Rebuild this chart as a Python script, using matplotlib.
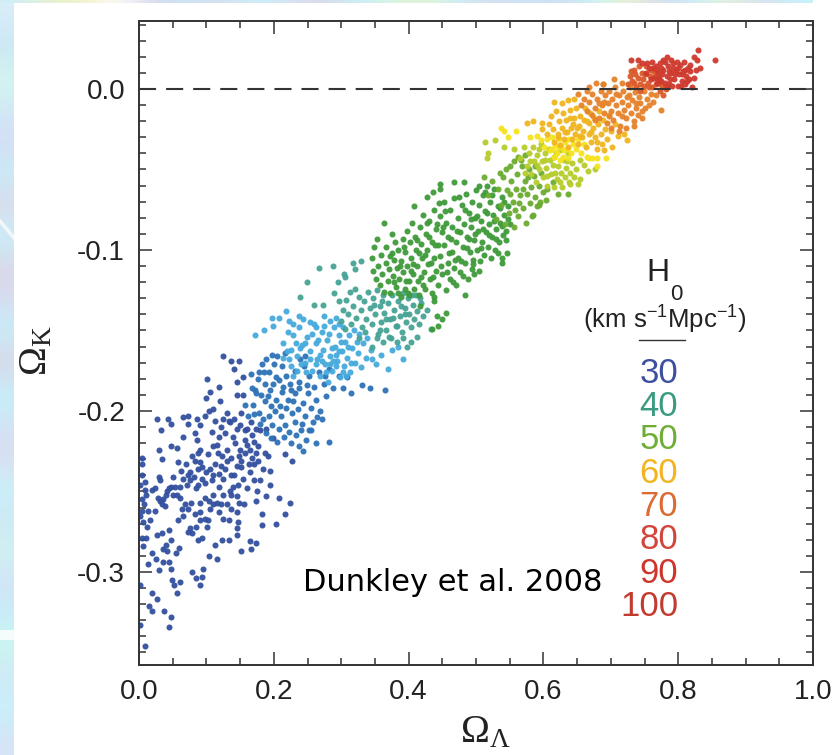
#!/usr/bin/env python3
import matplotlib
matplotlib.use('Agg')
import matplotlib.pyplot as plt
import matplotlib.colors as mcolors
import numpy as np
from matplotlib.ticker import MultipleLocator

# points, (omega_lambda, omega_k), one list per colour band
dark_blue = [(.009,-.346),(.002,-.333),(.044,-.334),(.048,-.328),(.037,-.324),(.020,-.324),(.015,-.321),(.027,-.317),
(.019,-.313),(.002,-.308),(.057,-.313),(.049,-.305),(.061,-.306),(.052,-.308),(.091,-.308),(.084,-.304),(.094,-.303),
(.095,-.298),(.078,-.300),(.030,-.299),(.048,-.298),(.045,-.294),(.036,-.294),(.025,-.292),(.014,-.295),(.019,-.288),
(.035,-.286),(.042,-.287),(.048,-.280),(.045,-.274),(.034,-.276),(.026,-.277),(.005,-.279),(.011,-.279),(.006,-.284),
(.104,-.290),(.115,-.292),(.113,-.283),(.088,-.280),(.093,-.279),(.123,-.280),(.133,-.280),(.152,-.287),(.166,-.286),
(.165,-.281),(.174,-.282),(.145,-.277),(.146,-.273),(.147,-.269),(.203,-.270),(.183,-.271),(.183,-.264),(.217,-.264),
(.224,-.257),(.208,-.254),(.189,-.253),(.173,-.256),(.175,-.250),(.156,-.258),(.146,-.263),(.134,-.268),(.118,-.263),
(.125,-.267),(.101,-.272),(.103,-.268),(.098,-.267),(.076,-.273),(.073,-.275),(.078,-.276),(.058,-.268),(.066,-.265),
(.083,-.264),(.091,-.263),(.105,-.261),(.110,-.258),(.091,-.257),(.077,-.257),(.036,-.255),(.031,-.256),(.034,-.258),
(.024,-.262),(.014,-.262),(.016,-.268),(.006,-.269),(.001,-.265),(.004,-.255),(.011,-.252),(.009,-.249),(.009,-.244),
(.004,-.240),(.029,-.241),(.031,-.243),(.048,-.247),(.053,-.247),(.061,-.247),(.044,-.248),(.024,-.248),(.051,-.241),
(.071,-.246),(.088,-.246),(.098,-.245),(.108,-.243),(.118,-.247),(.110,-.252),(.137,-.252),(.135,-.250),(.145,-.253),
(.147,-.246),(.160,-.248),(.195,-.246),(.180,-.243),(.184,-.236),(.195,-.237),(.152,-.235),(.145,-.234),(.137,-.240),
(.125,-.242),(.118,-.239),(.110,-.240),(.093,-.242),(.088,-.236),(.076,-.238),(.063,-.237),(.058,-.232),(.034,-.230),
(.030,-.224),(.004,-.229),(.004,-.233),(.048,-.222),(.056,-.223),(.066,-.216),(.083,-.214),(.086,-.218),(.088,-.226),
(.091,-.232),(.103,-.227),(.110,-.222),(.115,-.221),(.118,-.216),(.130,-.224),(.142,-.220),(.157,-.218),(.170,-.219),
(.177,-.222),(.157,-.226),(.165,-.224),(.187,-.226),(.192,-.228),(.217,-.227),(.227,-.231),(.199,-.217),(.189,-.211),
(.180,-.212),(.157,-.212),(.145,-.211),(.135,-.207),(.130,-.201),(.120,-.194),(.100,-.192),(.105,-.188),(.101,-.180),
(.119,-.185),(.145,-.182),(.146,-.190),(.155,-.190),(.125,-.166),(.137,-.169),(.149,-.169),(.141,-.174),(.154,-.179),
(.026,-.205),(.043,-.205),(.047,-.208),(.032,-.212),(.066,-.204),(.072,-.203),(.072,-.208),(.086,-.205),(.091,-.209),
(.104,-.200),(.110,-.199),(.113,-.206),(.098,-.203),(.124,-.205),(.133,-.206),(.141,-.205),(.150,-.209),(.160,-.211),
(.173,-.211),(.168,-.215),(.160,-.221),(.150,-.224),(.148,-.228),(.152,-.231),(.163,-.233),(.168,-.229),(.174,-.226),
(.171,-.233),(.094,-.235),(.099,-.238),(.106,-.236),(.113,-.233),(.122,-.234),(.128,-.236),(.130,-.231),(.136,-.229),
(.141,-.240),(.082,-.241),(.076,-.243),(.084,-.248),(.072,-.240),(.066,-.242),(.070,-.233),(.083,-.231),(.090,-.224),
(.078,-.228),(.041,-.250),(.050,-.252),(.056,-.252),(.061,-.254),(.068,-.258),(.072,-.261),(.028,-.254),(.038,-.259),
(.040,-.252),(.008,-.258),(.002,-.246),(.019,-.249),(.064,-.261),(.098,-.254),(.104,-.256),(.116,-.257),(.122,-.258),
(.090,-.268),(.085,-.272),(.060,-.285),(.055,-.288),(.040,-.283),(.012,-.272),(.005,-.262),(.155,-.242),(.165,-.238),
(.170,-.243),(.176,-.231),(.125,-.252),(.130,-.258),(.136,-.261),(.148,-.257),(.140,-.247),(.123,-.228),(.117,-.226),
(.108,-.213),(.121,-.210),(.128,-.214),(.139,-.216),(.152,-.201),(.166,-.207)]

mid_blue = [(.166,-.177),(.172,-.187),(.158,-.196),(.176,-.180),(.183,-.171),(.189,-.168),(.193,-.176),(.201,-.171),(.207,-.181),
(.212,-.172),(.181,-.190),(.187,-.183),(.195,-.187),(.203,-.179),(.218,-.178),(.224,-.183),(.231,-.175),(.238,-.182),(.245,-.172),
(.252,-.178),(.259,-.185),(.267,-.176),(.274,-.183),(.282,-.174),(.288,-.186),(.296,-.178),(.309,-.179),(.314,-.189),(.331,-.184),
(.343,-.186),(.365,-.187),(.302,-.186),(.278,-.191),(.263,-.193),(.251,-.189),(.243,-.195),(.232,-.189),(.221,-.193),(.212,-.188),
(.204,-.193),(.196,-.197),(.187,-.194),(.178,-.201),(.169,-.196),(.161,-.203),(.184,-.205),(.193,-.203),(.202,-.200),(.211,-.203),
(.218,-.198),(.227,-.201),(.236,-.199),(.246,-.203),(.255,-.198),(.269,-.200),(.272,-.205),(.258,-.207),(.242,-.208),(.231,-.207),
(.216,-.209),(.207,-.211),(.197,-.209),(.188,-.214),(.179,-.208),(.171,-.202),(.222,-.213),(.233,-.215),(.226,-.220),(.241,-.212),
(.248,-.218),(.238,-.222),(.244,-.225),(.252,-.212),(.262,-.220),(.282,-.219),(.196,-.217),(.205,-.219),(.215,-.216),(.174,-.189),
(.167,-.186),(.199,-.183),(.214,-.185),(.226,-.187),(.237,-.186),(.249,-.184),(.276,-.178),(.228,-.194),(.209,-.197),(.192,-.191),
(.255,-.212),(.264,-.204),(.186,-.176),(.178,-.176),(.197,-.165),(.205,-.166),(.217,-.164),(.239,-.168),(.246,-.166)]

light_blue = [(.172,-.153),(.186,-.150),(.199,-.147),(.197,-.142),(.207,-.142),(.218,-.138),(.213,-.158),(.221,-.151),(.225,-.162),
(.229,-.153),(.234,-.166),(.238,-.148),(.242,-.159),(.246,-.170),(.249,-.154),(.253,-.163),(.257,-.175),(.262,-.158),(.264,-.168),
(.268,-.178),(.271,-.151),(.273,-.162),(.276,-.171),(.279,-.156),(.281,-.182),(.284,-.166),(.287,-.175),(.289,-.148),(.291,-.160),
(.294,-.169),(.296,-.153),(.298,-.179),(.301,-.163),(.304,-.172),(.306,-.157),(.309,-.167),(.313,-.176),(.316,-.161),(.319,-.150),
(.321,-.170),(.325,-.164),(.329,-.173),(.333,-.158),(.337,-.167),(.344,-.162),(.352,-.171),(.359,-.165),(.233,-.158),(.225,-.172),
(.214,-.167),(.219,-.163),(.239,-.161),(.247,-.158),(.256,-.152),(.259,-.146),(.266,-.156),(.272,-.169),(.275,-.147),(.282,-.152),
(.286,-.161),(.292,-.172),(.299,-.157),(.303,-.148),(.307,-.178),(.311,-.153),(.315,-.170),(.283,-.171),(.277,-.176),(.268,-.165),
(.262,-.171),(.254,-.168),(.248,-.176),(.241,-.171),(.235,-.175),(.228,-.178),(.222,-.168),(.293,-.165),(.288,-.169),(.297,-.163),
(.302,-.176),(.310,-.160),(.323,-.157),(.327,-.152),(.338,-.155),(.376,-.162),(.385,-.160),(.345,-.168),(.370,-.174),(.392,-.168),
(.254,-.145),(.262,-.148),(.243,-.143),(.238,-.141),(.229,-.146),(.222,-.144),(.284,-.144),(.274,-.141),(.297,-.146),(.293,-.142)]

teal = [(.239,-.129),(.249,-.120),(.259,-.134),(.273,-.134),(.267,-.111),(.288,-.110),(.289,-.127),(.295,-.120),(.304,-.115),
(.305,-.117),(.318,-.108),(.330,-.107),(.321,-.112),(.313,-.126),(.321,-.124),(.296,-.132),(.302,-.137),(.299,-.144),(.307,-.131),
(.310,-.140),(.314,-.146),(.318,-.135),(.322,-.142),(.326,-.129),(.329,-.137),(.331,-.148),(.334,-.132),(.337,-.143),(.340,-.126),
(.342,-.136),(.345,-.146),(.347,-.130),(.350,-.140),(.353,-.125),(.355,-.152),(.357,-.135),(.359,-.145),(.362,-.128),(.364,-.139),
(.367,-.150),(.369,-.133),(.372,-.143),(.374,-.155),(.376,-.128),(.379,-.137),(.381,-.147),(.383,-.157),(.385,-.132),(.387,-.141),
(.390,-.151),(.392,-.127),(.394,-.136),(.396,-.145),(.399,-.130),(.401,-.140),(.403,-.148),(.406,-.134),(.408,-.143),(.411,-.128),
(.413,-.138),(.416,-.146),(.419,-.133),(.422,-.141),(.428,-.137),(.433,-.149),(.371,-.154),(.362,-.157),(.353,-.155),(.345,-.160),
(.392,-.155),(.403,-.157),(.412,-.154),(.398,-.160),(.327,-.155),(.336,-.151),(.306,-.149),(.348,-.134),(.361,-.132),(.377,-.142),
(.389,-.135),(.405,-.128),(.417,-.130),(.358,-.150),(.366,-.143),(.383,-.147),(.395,-.140)]

green_dark = [(.363,-.083),(.375,-.090),(.353,-.093),(.348,-.098),(.408,-.073),(.427,-.067),(.436,-.064),(.447,-.059),(.447,-.062),
(.468,-.058),(.482,-.058),(.539,-.105),(.539,-.108),(.546,-.102),(.483,-.128),(.494,-.112),(.504,-.113),(.497,-.115),(.450,-.143),
(.442,-.141),(.455,-.139),(.437,-.129),(.437,-.132),(.417,-.135),(.443,-.147),(.434,-.149),
(.346,-.105),(.351,-.118),(.347,-.113),(.355,-.110),(.357,-.122),(.359,-.103),(.361,-.115),(.364,-.126),(.366,-.108),(.367,-.098),
(.369,-.119),(.371,-.112),(.373,-.127),(.375,-.102),(.377,-.116),(.378,-.106),(.380,-.095),(.381,-.123),(.383,-.111),(.385,-.100),
(.386,-.118),(.388,-.129),(.389,-.107),(.391,-.093),(.392,-.114),(.394,-.124),(.395,-.101),(.397,-.088),(.398,-.110),(.400,-.119),
(.401,-.128),(.402,-.095),(.404,-.105),(.405,-.083),(.407,-.115),(.408,-.124),(.410,-.092),(.411,-.100),(.413,-.110),(.414,-.119),
(.416,-.128),(.417,-.086),(.419,-.096),(.420,-.105),(.422,-.078),(.423,-.114),(.425,-.124),(.426,-.090),(.428,-.100),(.429,-.109),
(.431,-.082),(.432,-.118),(.434,-.095),(.435,-.127),(.437,-.075),(.438,-.105),(.440,-.087),(.441,-.113),(.443,-.097),(.444,-.122),
(.446,-.079),(.447,-.104),(.449,-.089),(.450,-.115),(.452,-.070),(.453,-.097),(.455,-.125),(.456,-.083),(.458,-.108),(.459,-.092),
(.461,-.118),(.462,-.075),(.464,-.101),(.465,-.086),(.467,-.111),(.468,-.068),(.470,-.095),(.471,-.122),(.473,-.080),(.474,-.105),
(.476,-.089),(.477,-.114),(.479,-.072),(.480,-.098),(.482,-.084),(.483,-.108),(.485,-.065),(.486,-.092),(.488,-.118),(.489,-.077),
(.491,-.101),(.492,-.086),(.494,-.070),(.495,-.106),(.497,-.094),(.498,-.080),(.500,-.063),(.501,-.100),(.503,-.088),(.504,-.072),
(.506,-.107),(.507,-.082),(.509,-.095),(.510,-.066),(.512,-.103),(.513,-.076),(.515,-.089),(.516,-.060),(.518,-.098),(.519,-.084),
(.521,-.070),(.522,-.105),(.524,-.092),(.525,-.078),(.527,-.062),(.528,-.100),(.530,-.087),(.532,-.073),(.534,-.095),(.536,-.083),
(.538,-.067),(.540,-.091),(.542,-.078),(.545,-.088),(.548,-.073),(.551,-.084),
(.372,-.104),(.379,-.120),(.387,-.110),(.393,-.098),(.399,-.127),(.406,-.109),(.412,-.094),(.418,-.117),(.424,-.103),(.430,-.092),
(.436,-.117),(.442,-.084),(.448,-.110),(.454,-.076),(.460,-.102),(.466,-.120),(.472,-.088),(.478,-.107),(.484,-.075),(.490,-.093),
(.496,-.109),(.502,-.079),(.508,-.099),(.514,-.064),(.520,-.091),(.526,-.082),(.533,-.102),(.539,-.085),(.544,-.094),
(.384,-.127),(.396,-.119),(.403,-.113),(.415,-.102),(.421,-.122),(.427,-.083),(.433,-.108),(.439,-.097),(.445,-.071),(.451,-.086),
(.457,-.114),(.463,-.093),(.469,-.106),(.475,-.067),(.481,-.116),(.487,-.099),(.493,-.081),(.499,-.090),(.505,-.060),(.511,-.087),
(.517,-.077),(.523,-.066),(.529,-.093),(.535,-.074),(.541,-.070),(.547,-.081)]

green = [(.512,-.055),(.518,-.066),(.524,-.057),(.529,-.081),(.533,-.062),(.537,-.072),(.540,-.055),(.543,-.084),(.546,-.063),
(.549,-.077),(.552,-.057),(.555,-.070),(.557,-.086),(.559,-.062),(.561,-.053),(.563,-.079),(.566,-.066),(.568,-.048),(.570,-.074),
(.572,-.057),(.574,-.083),(.576,-.065),(.578,-.050),(.580,-.071),(.582,-.061),(.584,-.078),(.586,-.054),(.588,-.067),(.590,-.073),
(.593,-.060),(.595,-.070),(.597,-.052),(.599,-.064),(.583,-.079),(.594,-.072),(.604,-.069),(.550,-.048),(.544,-.050),(.535,-.052),
(.556,-.045),(.562,-.042),(.567,-.044),(.573,-.041),(.558,-.075),(.569,-.062),(.577,-.055),(.587,-.048),(.551,-.065),(.564,-.071),
(.622,-.065),(.636,-.065),(.606,-.062),(.614,-.058)]

yellow_green = [(.513,-.033),(.528,-.032),(.518,-.040),(.516,-.043),(.541,-.036),(.556,-.037),(.566,-.043),(.571,-.036),(.575,-.048),
(.578,-.040),(.581,-.053),(.584,-.036),(.586,-.045),(.589,-.058),(.591,-.041),(.593,-.050),(.596,-.034),(.598,-.045),(.600,-.055),
(.602,-.040),(.604,-.049),(.606,-.060),(.608,-.037),(.610,-.044),(.612,-.053),(.614,-.047),(.616,-.061),(.618,-.040),(.620,-.056),
(.622,-.048),(.624,-.038),(.626,-.052),(.628,-.061),(.630,-.044),(.632,-.055),(.634,-.049),(.636,-.040),(.638,-.058),(.640,-.052),
(.642,-.046),(.645,-.055),(.648,-.050),(.651,-.059),(.654,-.056),(.640,-.059),(.655,-.044),(.660,-.047),(.666,-.051),(.677,-.050),
(.594,-.037),(.605,-.054),(.615,-.042),(.625,-.058),(.635,-.045),(.617,-.052),(.603,-.044),(.590,-.047),(.580,-.045),(.573,-.052)]

yellow = [(.537,-.024),(.542,-.026),(.548,-.030),(.559,-.026),(.580,-.030),(.590,-.029),(.596,-.032),(.601,-.036),(.606,-.031),
(.610,-.038),(.613,-.030),(.617,-.035),(.620,-.040),(.623,-.031),(.626,-.036),(.629,-.042),(.632,-.033),(.635,-.037),(.638,-.031),
(.641,-.040),(.644,-.034),(.648,-.037),(.652,-.031),(.656,-.040),(.660,-.034),(.616,-.042),(.625,-.044),(.631,-.038),(.613,-.037),
(.622,-.036),(.637,-.043),(.664,-.042),(.668,-.043),(.672,-.043),(.680,-.048),(.680,-.043),(.693,-.043)]

gold = [(.575,-.021),(.584,-.020),(.598,-.021),(.598,-.025),(.608,-.022),(.606,-.028),(.611,-.017),(.614,-.025),(.616,-.033),
(.619,-.014),(.621,-.028),(.623,-.020),(.625,-.035),(.627,-.024),(.629,-.015),(.631,-.031),(.633,-.019),(.635,-.027),(.637,-.036),
(.639,-.013),(.641,-.024),(.643,-.031),(.645,-.018),(.647,-.028),(.649,-.012),(.651,-.034),(.653,-.023),(.655,-.017),(.657,-.030),
(.659,-.026),(.661,-.012),(.663,-.036),(.665,-.020),(.667,-.028),(.669,-.015),(.671,-.033),(.673,-.024),(.675,-.018),(.677,-.030),
(.679,-.037),(.681,-.022),(.683,-.014),(.685,-.028),(.687,-.034),(.689,-.019),(.691,-.025),(.694,-.031),(.697,-.016),(.700,-.026),
(.702,-.036),(.706,-.022),(.710,-.029),(.720,-.028),(.724,-.032),(.615,-.008),(.628,-.009),(.637,-.007),(.646,-.006),(.640,-.018),
(.650,-.024),(.660,-.019),(.670,-.027),(.680,-.033),(.690,-.038),(.668,-.021),(.654,-.029),(.644,-.022),(.632,-.027),(.622,-.030)]

orange = [(.652,-.003),(.664,-.001),(.667,.001),(.678,.004),(.656,-.010),(.660,-.006),(.664,-.014),(.668,-.008),(.672,-.003),
(.676,-.012),(.680,-.006),(.683,-.018),(.685,-.001),(.687,-.010),(.690,-.015),(.692,-.004),(.694,-.021),(.696,-.009),(.698,-.001),
(.700,-.014),(.702,-.006),(.704,-.019),(.706,.001),(.708,-.010),(.710,-.015),(.712,-.004),(.714,-.023),(.716,-.008),(.718,-.001),
(.720,-.013),(.722,-.018),(.724,-.005),(.726,-.010),(.728,.001),(.730,-.015),(.732,-.007),(.734,-.020),(.736,-.002),(.738,-.012),
(.740,-.016),(.742,-.005),(.744,-.009),(.747,-.018),(.749,-.001),(.751,-.012),(.754,-.006),(.757,-.010),(.760,-.003),(.763,-.008),
(.767,-.004),(.774,-.013),(.700,-.024),(.712,-.026),(.722,-.024),(.734,-.023),(.690,-.008),(.676,-.019),(.697,-.017),(.707,-.003),
(.717,-.017),(.727,-.004),(.737,-.009),(.689,.003),(.705,.006),(.689,.003),(.717,.004),(.746,-.014),(.683,-.009),(.672,-.016)]

red_orange = [(.725,.003),(.728,.008),(.731,.005),(.734,.012),(.737,.001),(.740,.007),(.743,.003),(.746,.010),(.749,.002),(.752,.014),
(.755,.004),(.758,.008),(.761,.001),(.764,.011),(.767,.003),(.770,.006),(.773,-.001),(.776,.002),(.778,-.004),(.742,.014),(.736,.009),
(.748,.006),(.757,.001),(.751,.009),(.744,-.001),(.730,.011),(.766,.008),(.772,.004),(.760,.012),(.735,.004),(.782,.000)]

red = [(.730,.018),(.746,.016),(.754,.016),(.784,.020),(.809,.017),(.830,.024),(.823,.020),(.828,.018),(.833,.013),(.854,.018),
(.752,.010),(.757,.013),(.761,.017),(.764,.007),(.767,.014),(.770,.010),(.773,.016),(.775,.005),(.778,.012),(.780,.017),(.783,.008),
(.785,.014),(.787,.003),(.790,.010),(.792,.016),(.794,.006),(.796,.012),(.799,.002),(.801,.009),(.803,.015),(.805,.005),(.807,.011),
(.810,.003),(.812,.008),(.814,.013),(.816,.006),(.818,.011),(.820,.001),(.823,.007),(.826,.012),(.769,.004),(.777,.018),(.789,.018),
(.798,.017),(.806,.009),(.772,.007),(.781,.004),(.791,.002),(.800,.013),(.810,.012),(.817,.015),(.759,.006),(.768,.012),(.776,.009),
(.786,.011),(.795,.009),(.804,.002),(.813,.005),(.788,.006),(.775,.013),(.793,.013),(.783,.001),(.763,.013),(.740,.018)]

bands = [dark_blue, mid_blue, light_blue, teal, green_dark, green, yellow_green, yellow, gold, orange, red_orange, red]
band_colors = ['#33509f', '#2d72b8', '#45aadc', '#45a394', '#3f9a3a', '#6aab30', '#b7cc2a', '#f6e31e', '#f0b51f',
               '#e5822a', '#da5a2a', '#cf3a2e']

legend_h0 = ['30', '40', '50', '60', '70', '80', '90', '100']
legend_colors = ['#3d509f', '#3b9a80', '#6fae35', '#f2b41f', '#dc6a33', '#d2443c', '#cf352c', '#c23b2e']
legend_k = [-.177, -.1975, -.218, -.239, -.2596, -.280, -.301, -.3217]

# background texture behind the white page
left_strip = ['#d8eef8', '#c9e6f6', '#d6f6ee', '#cfeaf8', '#d5dcf4', '#c8eef8', '#dcd8ea', '#c8f2fa', '#dcd6e8', '#d6dcef',
              '#c6f0fa', '#dcd4e6', '#c4f2fb', '#d0e4f6', '#dcdcee', '#c8f4fa', '#d0e6f5', '#cef4f2', '#d4e2f6', '#c6eefa',
              '#ccf7f0', '#d0e8f6', '#c8f2fa', '#d6e4f6']
top_strip = ['#d0eef6', '#e8f2d0', '#f2f0c8', '#ffffff', '#d8d8ea', '#c8e8f6', '#dcdcee', '#c8f2fa', '#d8e4f4', '#dcd8ea',
             '#c8f0f8', '#d8f4e8', '#e8f4d0', '#c8f0f8', '#dcdcee', '#c8e8f8', '#d4dcf2', '#c8f4fa', '#eef4d0', '#d8dcee',
             '#c8f0fa', '#e8f2d8', '#d8e0f0', '#c8f2fa']

plt.rcParams['font.family'] = ['Liberation Sans', 'DejaVu Sans']
plt.rcParams['mathtext.default'] = 'regular'

fig = plt.figure(figsize=(8.39, 7.55), dpi=100)

# strips of the page background
bg = fig.add_axes([0, 0, 14 / 839, 1], zorder=0)
bg.imshow(np.array([mcolors.to_rgb(c) for c in left_strip])[:, None, :], aspect='auto', interpolation='bicubic',
          extent=(0, 1, 0, 1))
bg.plot([0, 1], [1 - 221 / 755, 1 - 238 / 755], color='white', lw=2.5, alpha=.7)
bg.axhspan(1 - 640 / 755, 1 - 630 / 755, color='white', alpha=.8, lw=0)
bg.set_xlim(0, 1)
bg.set_ylim(0, 1)
bg.axis('off')
bg2 = fig.add_axes([0, 1 - 3.5 / 755, 813 / 839, 3.5 / 755], zorder=0)
bg2.imshow(np.array([mcolors.to_rgb(c) for c in top_strip])[None, :, :], aspect='auto', interpolation='bicubic')
bg2.axis('off')

ax = fig.add_axes([139 / 839, (755 - 665) / 755, 674 / 839, 644 / 755], zorder=1)
for band, color in zip(bands, band_colors):
    lam, k = np.array(band).T
    ax.scatter(lam, k, s=19, color=color, linewidths=0, alpha=.95, zorder=2)

ax.axhline(0, color='#333333', lw=1.5, linestyle=(0, (8.2, 4.8)), zorder=3)

ax.set_xlim(0, 1)
ax.set_ylim(-.3578, .0422)
ax.xaxis.set_minor_locator(MultipleLocator(.05))
ax.yaxis.set_minor_locator(MultipleLocator(.01))
ax.set_xticks([0, .2, .4, .6, .8, 1.0], ['0.0', '0.2', '0.4', '0.6', '0.8', '1.0'])
ax.set_yticks([0, -.1, -.2, -.3], ['0.0', '-0.1', '-0.2', '-0.3'])
ax.tick_params(which='major', direction='in', top=True, right=True, length=9.5, width=1.1, color='#333333',
               labelsize=20, labelcolor='#222222', pad=10)
ax.tick_params(which='minor', direction='in', top=True, right=True, length=5, width=1.1, color='#333333')
for s in ax.spines.values():
    s.set_linewidth(1.4)
    s.set_color('#333333')

ax.text(.514, -.400, r'$\Omega_{\Lambda}$', ha='center', va='center', fontsize=28, color='#222222',
        family='Liberation Serif', clip_on=False)
ax.text(-.151, -.1627, r'$\Omega_{K}$', ha='center', va='center', rotation=90, fontsize=28, color='#222222',
        family='Liberation Serif', clip_on=False)

# H0 legend
ax.text(.770, -.1146, 'H', ha='center', va='center', fontsize=23, color='#222222')
ax.text(.797, -.1275, '0', ha='center', va='center', fontsize=16, color='#222222')
ax.text(.7797, -.1432, r'(km s$^{-1}$Mpc$^{-1}$)', ha='center', va='center', fontsize=18.5, color='#222222')
ax.plot([.7423, .8105], [-.1559, -.1559], color='#333333', lw=1)
for label, color, k in zip(legend_h0, legend_colors, legend_k):
    ax.text(.8, k, label, ha='right', va='center', fontsize=25, color=color)

ax.text(.2435, -.3065, 'Dunkley et al. 2008', ha='left', va='center', fontsize=22, color='black',
        family=['DejaVu Sans'])

fig.savefig('out.png', dpi=100)
